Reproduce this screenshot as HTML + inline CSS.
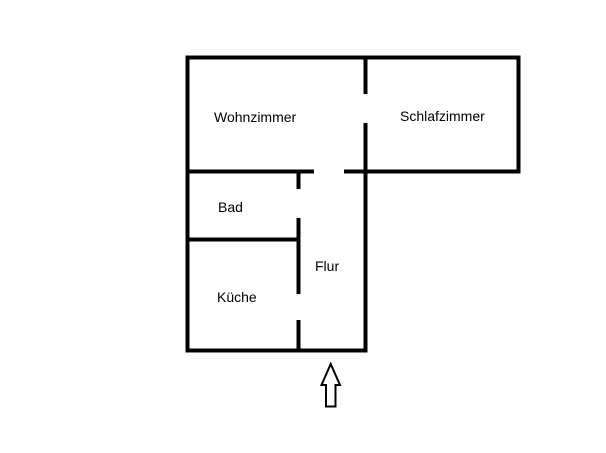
<!DOCTYPE html>
<html><head><style>body{margin:0;background:#fff}</style></head><body>
<svg width="606" height="453" xmlns="http://www.w3.org/2000/svg" style="display:block">
<g stroke="#000" stroke-width="4" fill="none" stroke-linecap="square">
<line x1="187.5" y1="57.5" x2="518.5" y2="57.5"/>
<line x1="187.5" y1="57.5" x2="187.5" y2="350.5"/>
<line x1="187.5" y1="350.5" x2="365.5" y2="350.5"/>
<line x1="518.5" y1="57.5" x2="518.5" y2="171.5"/>
<line x1="365.5" y1="171.5" x2="518.5" y2="171.5"/>
<line x1="365.5" y1="57.5" x2="365.5" y2="92"/>
<line x1="365.5" y1="125" x2="365.5" y2="350.5"/>
<line x1="187.5" y1="171.5" x2="312" y2="171.5"/>
<line x1="346" y1="171.5" x2="365.5" y2="171.5"/>
<line x1="298.5" y1="171.5" x2="298.5" y2="187"/>
<line x1="298.5" y1="220" x2="298.5" y2="292"/>
<line x1="298.5" y1="322" x2="298.5" y2="350.5"/>
<line x1="187.5" y1="239.5" x2="298.5" y2="239.5"/>
</g>
<polygon points="330.7,364 340,385 335.5,385 335.5,406.5 326,406.5 326,385 321.5,385" fill="none" stroke="#000" stroke-width="2"/>
<g font-family="Liberation Sans, sans-serif" font-size="14" fill="#000">
<text x="214" y="122">Wohnzimmer</text>
<text x="400" y="121">Schlafzimmer</text>
<text x="218" y="212">Bad</text>
<text x="315" y="271">Flur</text>
<text x="217" y="302">Küche</text>
</g>
</svg>
</body></html>
